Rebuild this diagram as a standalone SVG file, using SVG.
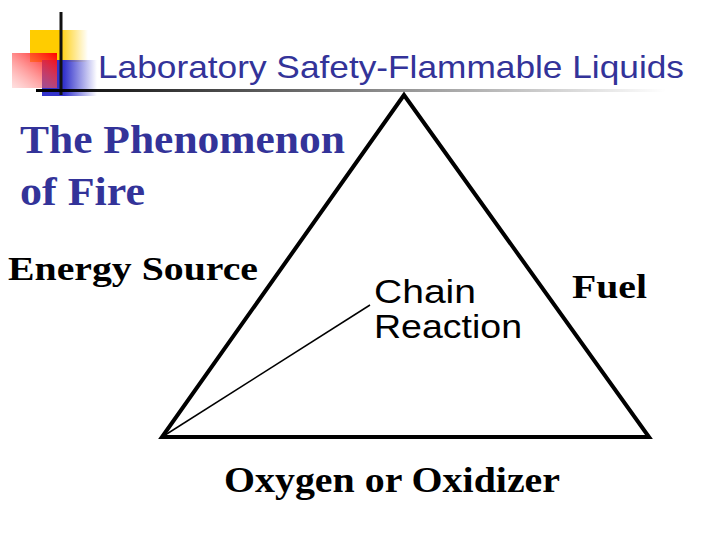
<svg xmlns="http://www.w3.org/2000/svg" width="720" height="540" viewBox="0 0 720 540">
<defs>
<linearGradient id="gy" x1="0" x2="1"><stop offset="0.5" stop-color="#ffcc00"/><stop offset="1" stop-color="#ffcc00" stop-opacity="0"/></linearGradient>
<linearGradient id="gr" x1="1" y1="0" x2="0" y2="1"><stop offset="0" stop-color="#ff0000"/><stop offset="1" stop-color="#ff9999" stop-opacity="0.3"/></linearGradient>
<linearGradient id="gb" x1="0" x2="1"><stop offset="0.4" stop-color="#3333cc"/><stop offset="1" stop-color="#3333cc" stop-opacity="0"/></linearGradient>
<linearGradient id="gl" x1="0" x2="1"><stop offset="0" stop-color="#000"/><stop offset="1" stop-color="#000" stop-opacity="0"/></linearGradient>
<style>
.s{font-family:"Liberation Serif",serif;font-weight:bold}
.a{font-family:"Liberation Sans",sans-serif}
</style>
</defs>
<g id="logo">
<rect x="30" y="30" width="58" height="32" fill="url(#gy)"/>
<rect x="42" y="60" width="55" height="36" fill="url(#gb)"/>
<rect x="12" y="53" width="45" height="35" fill="url(#gr)"/>
<line x1="61" y1="12" x2="61" y2="95" stroke="#111" stroke-width="3"/>
<rect x="36" y="89" width="630" height="3" fill="url(#gl)"/>
</g>
<text id="title" class="a" x="98" y="78" font-size="32" fill="#333399" textLength="586" lengthAdjust="spacingAndGlyphs">Laboratory Safety-Flammable Liquids</text>
<g id="heading" class="s" font-size="40" fill="#333399">
<text x="20" y="153" textLength="325" lengthAdjust="spacingAndGlyphs">The Phenomenon</text>
<text x="20" y="205" textLength="125" lengthAdjust="spacingAndGlyphs">of Fire</text>
</g>
<g id="connectors">
<polygon points="404,95 162,437 649,437" fill="none" stroke="#000" stroke-width="4" stroke-linejoin="miter"/>
<line x1="162" y1="437" x2="370" y2="305" stroke="#000" stroke-width="1.5"/>
</g>
<g id="energy"><text class="s" x="8" y="280" font-size="33" textLength="250" lengthAdjust="spacingAndGlyphs">Energy Source</text></g>
<g id="chain" class="a" font-size="34"><text x="374" y="303" textLength="102" lengthAdjust="spacingAndGlyphs">Chain</text><text x="374" y="338" textLength="148" lengthAdjust="spacingAndGlyphs">Reaction</text></g>
<g id="fuel"><text class="s" x="572" y="298" font-size="34" textLength="75" lengthAdjust="spacingAndGlyphs">Fuel</text></g>
<g id="oxygen"><text class="s" x="224" y="492" font-size="35" textLength="336" lengthAdjust="spacingAndGlyphs">Oxygen or Oxidizer</text></g>
</svg>
